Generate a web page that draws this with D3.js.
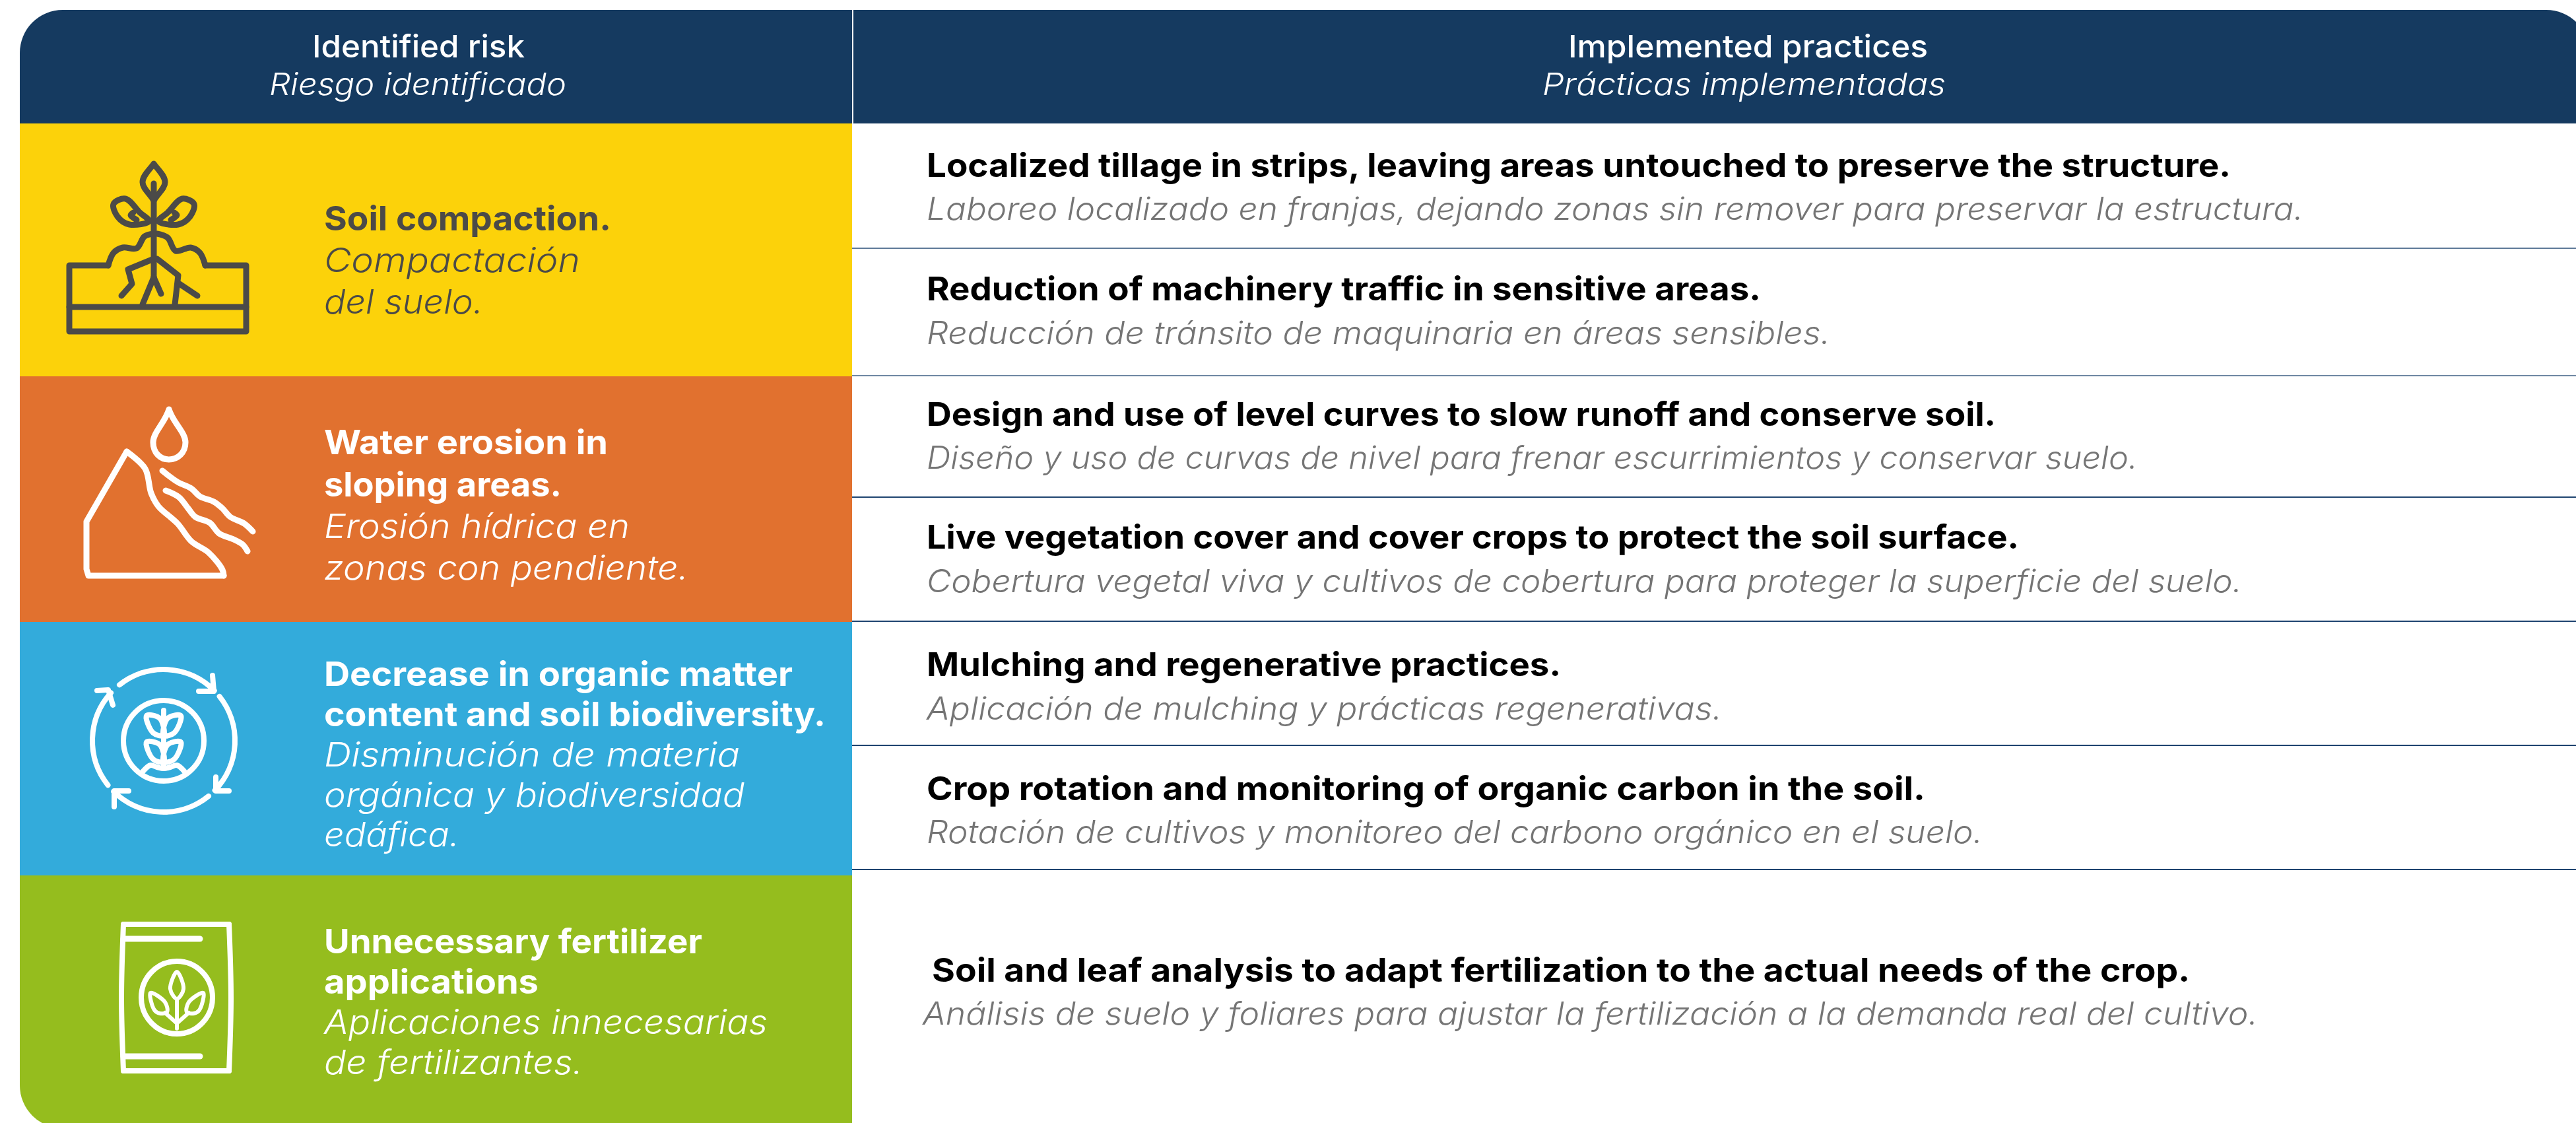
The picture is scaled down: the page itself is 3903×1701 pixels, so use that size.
<!DOCTYPE html>
<html>
<head>
<meta charset="utf-8">
<title>Identified risk / Implemented practices</title>
<script src="https://cdn.jsdelivr.net/npm/d3@7"></script>
<style>
  html, body { margin: 0; padding: 0; background: #fff; }
  svg { display: block; }
</style>
</head>
<body>
<div id="chart"></div>
<script>
// Table content
const headerEn = ['Identified risk', 'Implemented practices'];
const headerEs = ['Riesgo identificado', 'Prácticas implementadas'];

const riskEn = [
    ['Soil compaction.'],
    ['Water erosion in', 'sloping areas.'],
    ['Decrease in organic matter', 'content and soil biodiversity.'],
    ['Unnecessary fertilizer', 'applications']
];
const riskEs = [
    ['Compactación', 'del suelo.'],
    ['Erosión hídrica en', 'zonas con pendiente.'],
    ['Disminución de materia', 'orgánica y biodiversidad', 'edáfica.'],
    ['Aplicaciones innecesarias', 'de fertilizantes.']
];
const practiceEn = [
    'Localized tillage in strips, leaving areas untouched to preserve the structure.',
    'Reduction of machinery traffic in sensitive areas.',
    'Design and use of level curves to slow runoff and conserve soil.',
    'Live vegetation cover and cover crops to protect the soil surface.',
    'Mulching and regenerative practices.',
    'Crop rotation and monitoring of organic carbon in the soil.',
    'Soil and leaf analysis to adapt fertilization to the actual needs of the crop.'
];
const practiceEs = [
    'Laboreo localizado en franjas, dejando zonas sin remover para preservar la estructura.',
    'Reducción de tránsito de maquinaria en áreas sensibles.',
    'Diseño y uso de curvas de nivel para frenar escurrimientos y conservar suelo.',
    'Cobertura vegetal viva y cultivos de cobertura para proteger la superficie del suelo.',
    'Aplicación de mulching y prácticas regenerativas.',
    'Rotación de cultivos y monitoreo del carbono orgánico en el suelo.',
    'Análisis de suelo y foliares para ajustar la fertilización a la demanda real del cultivo.'
];

// Layout
const W = 3903, H = 1701;
const LEFT = 30, SPLIT = 1291, TOP = 15, HEAD_BOTTOM = 187, RADIUS = 65;
const riskEdges = [187, 570, 942, 1326, 1709];
const riskColors = ['#fcd20a', '#e1712f', '#33abdb', '#95bd1e'];
const riskInk = ['#4b4a48', '#fff', '#fff', '#fff'];
const riskBaselines = [
    [349, 412, 475],
    [688, 752, 815, 878],
    [1039, 1100, 1161, 1222, 1282],
    [1444, 1505, 1566, 1627]
];
const riskWidths = [
    [435, 388, 241],
    [430, 360, 463, 552],
    [710, 760, 630, 637, 205],
    [573, 325, 672, 392]
];
const ruleY = [376, 569, 753, 941, 1129, 1317];
const ruleColor = ['#5f7a99', '#6f88a3', '#1f4470', '#1f4470', '#1f4470', '#1f4470'];
const practiceBase = [[268, 333], [455, 521], [645, 710], [831, 897], [1024, 1090], [1212, 1277], [1487, 1552]];
const practiceX = [[1404, 1404], [1404, 1404], [1404, 1404], [1404, 1404], [1404, 1404], [1404, 1404], [1412, 1398]];
const practiceW = [[1976, 2086], [1264, 1369], [1620, 1835], [1655, 1993], [961, 1205], [1513, 1600], [1906, 2023]];

const FONT = 'Inter, "Noto Sans", sans-serif';

const svg = d3.select('#chart').append('svg')
    .attr('width', W)
    .attr('height', H)
    .style('font-family', FONT);

svg.append('rect').attr('width', W).attr('height', H).attr('fill', '#fff');

svg.append('clipPath').attr('id', 'table-clip')
    .append('rect')
    .attr('x', LEFT).attr('y', TOP)
    .attr('width', W + 20 - LEFT).attr('height', riskEdges[4] - TOP)
    .attr('rx', RADIUS).attr('ry', RADIUS);

const table = svg.append('g').attr('clip-path', 'url(#table-clip)');

// Header band and the thin white divider
table.append('rect')
    .attr('x', LEFT).attr('y', TOP)
    .attr('width', W + 20 - LEFT).attr('height', HEAD_BOTTOM - TOP)
    .attr('fill', '#153a60');
table.append('rect')
    .attr('x', SPLIT).attr('y', TOP)
    .attr('width', 2).attr('height', HEAD_BOTTOM - TOP)
    .attr('fill', '#fff');

// Risk bands
table.selectAll('rect.band')
    .data(riskColors)
    .join('rect')
    .attr('class', 'band')
    .attr('x', LEFT)
    .attr('y', (d, i) => riskEdges[i])
    .attr('width', SPLIT - LEFT)
    .attr('height', (d, i) => riskEdges[i + 1] - riskEdges[i])
    .attr('fill', d => d);

// Rules on the right column
svg.selectAll('line.rule')
    .data(ruleY)
    .join('line')
    .attr('class', 'rule')
    .attr('x1', SPLIT).attr('x2', W)
    .attr('y1', d => d).attr('y2', d => d)
    .attr('stroke', (d, i) => ruleColor[i])
    .attr('stroke-width', 2);

// Inter is narrower than the original face, so stretch each line to its measured width
function label(text, x, y, size, fill, target, weight, italic) {
    return svg.append('text')
        .attr('x', x).attr('y', y)
        .attr('font-size', size)
        .attr('font-weight', weight)
        .attr('font-style', italic ? 'italic' : 'normal')
        .attr('fill', fill)
        .attr('textLength', target)
        .attr('lengthAdjust', 'spacingAndGlyphs')
        .text(text);
}

// Header text
label(headerEn[0], 473, 87, 47, '#fff', 322, 500, false);
label(headerEs[0], 408, 144, 47, '#fff', 450, 300, true);
label(headerEn[1], 2376, 87, 47, '#fff', 545, 500, false);
label(headerEs[1], 2337, 144, 47, '#fff', 611, 300, true);

// Risk labels
riskEn.forEach((lines, i) => {
    lines.forEach((line, j) => {
        label(line, 491, riskBaselines[i][j], 51, riskInk[i], riskWidths[i][j], 700, false);
    });
    riskEs[i].forEach((line, j) => {
        const k = j + lines.length;
        label(line, 491, riskBaselines[i][k], 51, riskInk[i], riskWidths[i][k], 300, true);
    });
});

// Practices
practiceEn.forEach((d, i) => {
    label(d, practiceX[i][0], practiceBase[i][0], 50, '#000', practiceW[i][0], 700, false);
    label(practiceEs[i], practiceX[i][1], practiceBase[i][1], 48, '#757575', practiceW[i][1], 300, true);
});

// Icons
const curve = d3.line().curve(d3.curveCatmullRom.alpha(0.5));
const straight = d3.line();

function icon(color, width) {
    return svg.append('g')
        .attr('fill', 'none')
        .attr('stroke', color)
        .attr('stroke-width', width)
        .attr('stroke-linecap', 'round')
        .attr('stroke-linejoin', 'round');
}
function closed(pts) {
    return d3.line().curve(d3.curveCatmullRomClosed.alpha(0.5))(pts);
}

// Soil compaction: plant over a soil block
const i1 = icon('#4b4a48', 9);
i1.append('path').attr('d', straight([[164, 402], [105, 402], [105, 502], [373, 502], [373, 402], [311, 402]]));
i1.append('path').attr('d', straight([[105, 465], [373, 465]]));
i1.append('path').attr('d', curve([[164, 402], [172, 383], [186, 375], [207, 376], [219, 358], [233, 354]]));
i1.append('path').attr('d', curve([[311, 402], [303, 383], [289, 375], [266, 380], [254, 360], [238, 354]]));
i1.append('path').attr('d', straight([[233, 302], [233, 420]]));
i1.append('path').attr('d', straight([[233, 392], [194, 408], [200, 430], [184, 448]]));
i1.append('path').attr('d', straight([[238, 392], [270, 417], [265, 461]]));
i1.append('path').attr('d', straight([[272, 430], [299, 448]]));
i1.append('path').attr('d', straight([[233, 420], [216, 461]]));
i1.append('path').attr('d', straight([[233, 420], [244, 445]]));
i1.append('path').attr('d', 'M233,248 C226,258 216,266 216,276 C216,286 228,294 233,304 C238,294 250,286 250,276 C250,266 240,258 233,248Z');
i1.append('path').attr('d', straight([[233, 278], [233, 300]]));
i1.append('path').attr('d', closed([[172, 309], [190, 301], [212, 322], [226, 335], [196, 340], [178, 328]]));
i1.append('path').attr('d', closed([[294, 309], [276, 301], [254, 322], [240, 335], [270, 340], [288, 328]]));
i1.append('path').attr('d', curve([[202, 322], [198, 326], [207, 333]]));
i1.append('path').attr('d', curve([[264, 322], [268, 326], [259, 333]]));

// Water erosion: drop, slope and runoff
const i2 = icon('#fff', 9);
i2.append('path').attr('d', 'M256,620 C250,640 232,655 232,670 C232,686 243,696 256,696 C269,696 281,686 281,670 C281,655 262,640 256,620Z');
i2.append('path').attr('d', curve([[192, 684], [220, 710], [229, 747], [240, 767], [269, 793], [290, 820], [316, 837], [337, 863], [339, 872]]));
i2.append('path').attr('d', straight([[339, 872], [134, 872], [131, 862], [131, 790], [192, 684]]));
i2.append('path').attr('d', curve([[246, 713], [269, 730], [290, 740], [303, 752], [324, 760], [337, 770], [349, 783], [370, 793], [383, 805]]));
i2.append('path').attr('d', curve([[251, 743], [271, 753], [285, 770], [296, 783], [318, 792], [332, 808], [354, 817], [368, 825], [375, 835]]));

// Loss of organic matter: cycle around a plant
const i3 = icon('#fff', 8);
const cx3 = 248, cy3 = 1122;
const ring = d3.arc().innerRadius(108).outerRadius(108);
const arcs3 = [[-0.67, 0.79], [0.9, 2.34], [2.46, 3.92], [4.04, 5.45]];
arcs3.forEach(a => {
    i3.append('path')
        .attr('transform', `translate(${cx3},${cy3})`)
        .attr('d', ring({ startAngle: a[0], endAngle: a[1] }));
});
i3.append('path').attr('d', straight([[322, 1023], [324, 1047], [301, 1047]]));
i3.append('path').attr('d', straight([[327, 1177], [327, 1198], [347, 1198]]));
i3.append('path').attr('d', straight([[195, 1198], [173, 1198], [173, 1222]]));
i3.append('path').attr('d', straight([[147, 1046], [164, 1045], [171, 1068]]));
i3.append('circle').attr('cx', cx3).attr('cy', cy3).attr('r', 61);
i3.append('path').attr('d', straight([[248, 1076], [248, 1160]]));
[1082, 1122].forEach(y0 => {
    i3.append('path').attr('d', closed([[222, y0 + 2], [242, y0 + 6], [248, y0 + 32], [232, y0 + 28]]));
    i3.append('path').attr('d', closed([[274, y0 + 2], [254, y0 + 6], [248, y0 + 32], [264, y0 + 28]]));
});
i3.append('path').attr('d', curve([[217, 1168], [228, 1159], [238, 1162], [248, 1164], [258, 1162], [268, 1159], [279, 1168]]));

// Fertilizer bag
const i4 = icon('#fff', 8);
i4.append('path').attr('d', d3.line().curve(d3.curveCatmullRom)([[187, 1400], [184, 1511], [187, 1622]]));
i4.append('path').attr('d', d3.line().curve(d3.curveCatmullRom)([[347, 1400], [350, 1511], [347, 1622]]));
i4.append('path').attr('d', straight([[187, 1400], [347, 1400]]));
i4.append('path').attr('d', straight([[187, 1622], [347, 1622]]));
i4.append('path').attr('d', straight([[187, 1422], [303, 1422]])).attr('stroke-width', 9);
i4.append('path').attr('d', straight([[187, 1600], [303, 1600]])).attr('stroke-width', 9);
i4.append('ellipse').attr('cx', 268).attr('cy', 1511).attr('rx', 54).attr('ry', 55);
i4.append('path').attr('d', closed([[268, 1472], [278, 1498], [268, 1513], [258, 1498]])).attr('stroke-width', 6);
i4.append('path').attr('d', closed([[228, 1504], [250, 1518], [253, 1533], [242, 1535], [234, 1530]])).attr('stroke-width', 6);
i4.append('path').attr('d', closed([[308, 1504], [286, 1518], [283, 1533], [294, 1535], [302, 1530]])).attr('stroke-width', 6);
i4.append('path').attr('d', straight([[268, 1513], [268, 1558]])).attr('stroke-width', 6);
i4.append('path').attr('d', straight([[250, 1534], [268, 1550], [286, 1534]])).attr('stroke-width', 6);
</script>
</body>
</html>
